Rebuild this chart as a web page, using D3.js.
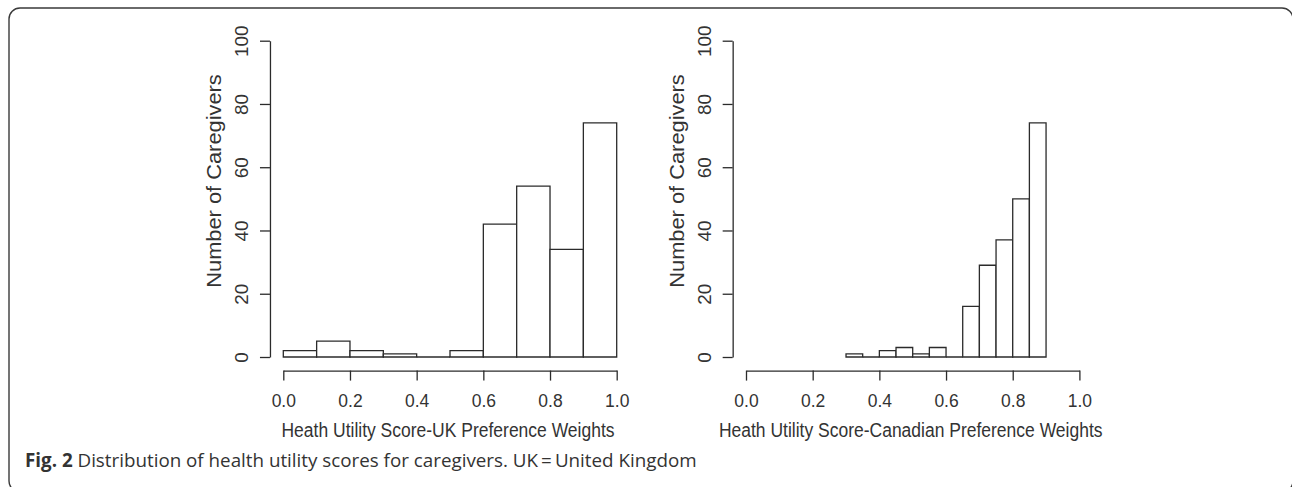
<!DOCTYPE html>
<html>
<head>
<meta charset="utf-8">
<script src="https://cdn.jsdelivr.net/npm/d3@7"></script>
<style>
  html, body { margin: 0; padding: 0; background: #fff; }
  svg { display: block; }
</style>
</head>
<body>
<svg id="chart" width="1292" height="487"></svg>
<script>
// ---- data ----
const ukBreaks = [0.0, 0.1, 0.2, 0.3, 0.4, 0.5, 0.6, 0.7, 0.8, 0.9, 1.0];
const ukCounts = [2, 5, 2, 1, 0, 2, 42, 54, 34, 74];
const canBreaks = [0.30, 0.35, 0.40, 0.45, 0.50, 0.55, 0.60, 0.65, 0.70, 0.75, 0.80, 0.85, 0.90];
const canCounts = [1, 0, 2, 3, 1, 3, 0, 16, 29, 37, 50, 74];
const xTicks = [0.0, 0.2, 0.4, 0.6, 0.8, 1.0];
const yTicks = [0, 20, 40, 60, 80, 100];
const yLabel = "Number of Caregivers";
const ukTitle = "Heath Utility Score-UK Preference Weights";
const canTitle = "Heath Utility Score-Canadian Preference Weights";
const captionBold = "Fig. 2";
const captionText = " Distribution of health utility scores for caregivers. UK\u2009=\u2009United Kingdom";

const svg = d3.select("#chart");
const ink = "#2b2b2b";
const font = "'Liberation Sans', Arial, sans-serif";
const fs = 17.5;

// frame
svg.append("rect")
  .attr("x", 9).attr("y", 8).attr("width", 1284).attr("height", 484)
  .attr("rx", 11).attr("ry", 11)
  .attr("fill", "none").attr("stroke", "#3a3a3a").attr("stroke-width", 1.4);

function panel(x0, breaks, counts, title) {
  const x = d3.scaleLinear().domain([0, 1]).range([x0, x0 + 333.4]);
  const y = d3.scaleLinear().domain([0, 100]).range([357, 40.7]);
  const yAxisX = x(-0.04);
  const xAxisY = y(-4.3);
  const g = svg.append("g");

  const bins = counts.map((c, i) => ({ x0: breaks[i], x1: breaks[i + 1], c }));
  g.selectAll("path.bar").data(bins).join("path")
    .attr("class", "bar")
    .attr("d", d => `M${x(d.x0)},${y(0)}V${y(d.c)}H${x(d.x1)}V${y(0)}Z`)
    .attr("fill", "#fff").attr("stroke", ink).attr("stroke-width", 1.3)
    .attr("stroke-linejoin", "miter");

  // x axis
  const xa = g.append("g").attr("transform", `translate(0,${xAxisY})`)
    .call(d3.axisBottom(x).tickValues(xTicks).tickFormat(d3.format(".1f")).tickSize(10).tickSizeOuter(0));
  xa.select(".domain").attr("stroke", ink).attr("stroke-width", 1.3);
  xa.selectAll(".tick line").attr("stroke", ink).attr("stroke-width", 1.3);
  xa.selectAll(".tick text").attr("y", 0).attr("dy", 0)
    .attr("transform", "translate(0,36) scale(1,1.08)")
    .attr("font-family", font).attr("font-size", fs).attr("fill", "#333");

  // y axis
  const ya = g.append("g").attr("transform", `translate(${yAxisX},0)`)
    .call(d3.axisLeft(y).tickValues(yTicks).tickFormat(d3.format("d")).tickSize(10).tickSizeOuter(0));
  ya.select(".domain").attr("stroke", ink).attr("stroke-width", 1.3);
  ya.selectAll(".tick line").attr("stroke", ink).attr("stroke-width", 1.3);
  ya.selectAll(".tick text")
    .attr("x", 0).attr("y", -22).attr("dy", 0)
    .attr("transform", "scale(1,1.08) rotate(-90)")
    .attr("text-anchor", "middle")
    .attr("font-family", font).attr("font-size", fs).attr("fill", "#333");

  // titles
  g.append("text")
    .attr("transform", `translate(${x(0.5) - 2},437) scale(1,1.15)`)
    .attr("text-anchor", "middle")
    .attr("font-family", font).attr("font-size", fs).attr("fill", "#333")
    .text(title);
  g.append("text")
    .attr("transform", `translate(${yAxisX - 48.5},181) scale(1,1.12) rotate(-90)`)
    .attr("text-anchor", "middle")
    .attr("font-family", font).attr("font-size", 19.5).attr("fill", "#333")
    .text(yLabel);
}

panel(283.3, ukBreaks, ukCounts, ukTitle);
panel(746.0, canBreaks, canCounts, canTitle);

// caption
const cap = svg.append("text")
  .attr("x", 25).attr("y", 467)
  .attr("font-family", "'Open Sans', 'Noto Sans', sans-serif")
  .attr("font-size", 15).attr("fill", "#333");
cap.append("tspan").attr("font-weight", "bold").text(captionBold);
cap.append("tspan").text(captionText);
// fit caption width to reference extent
const w = cap.node().getComputedTextLength();
cap.attr("font-size", 15 * 672 / w);
</script>
</body>
</html>
